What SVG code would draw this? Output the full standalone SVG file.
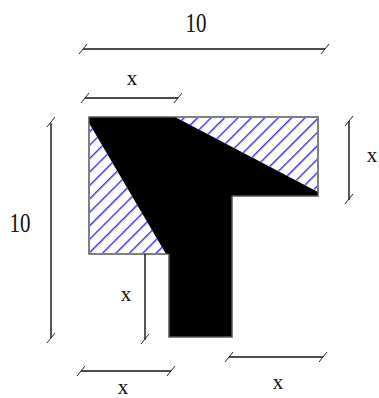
<svg xmlns="http://www.w3.org/2000/svg" width="379" height="398" viewBox="0 0 379 398">
<style>
.dim{stroke:#111;stroke-width:1.4;fill:none}
.tick{stroke:#222;stroke-width:1;fill:none}
.lbl{font-family:"Liberation Serif","Times New Roman",serif;font-size:21px;fill:#111;text-anchor:middle}
.edge{stroke:#555;stroke-width:1.5;fill:none}
</style>
<defs>
<pattern id="hatch" patternUnits="userSpaceOnUse" width="20" height="9.5" patternTransform="rotate(-45)">
<line x1="0" y1="4.5" x2="20" y2="4.5" stroke="#1f1ff0" stroke-width="1.3"/>
</pattern>
</defs>
<g id="section">
<rect x="89" y="117" width="229" height="137" fill="#fff"/>
<polygon points="89,117 175,117 318,192 318,196 232,196 232,337 169,337 169,254 166,254 89,123" fill="#000"/>
<polygon points="90,124 90,253 166,253" fill="url(#hatch)"/>
<polygon points="176,118 317,118 317,191" fill="url(#hatch)"/>
<polyline class="edge" points="168,254 89,254 89,117 318,117 318,196 232,196"/>
<polyline class="edge" points="232,196 232,337 169,337 169,254"/>
</g>
<g id="connectors">
<g id="dim-top-10">
<line class="dim" x1="83" y1="49" x2="325" y2="49"/>
<line class="tick" x1="79" y1="54" x2="87" y2="44"/>
<line class="tick" x1="321" y1="54" x2="329" y2="44"/>
</g>
<g id="dim-top-x">
<line class="dim" x1="85" y1="98" x2="178" y2="98"/>
<line class="tick" x1="81" y1="103" x2="89" y2="93"/>
<line class="tick" x1="174" y1="103" x2="182" y2="93"/>
</g>
<g id="dim-left-10">
<line class="dim" x1="51" y1="123" x2="51" y2="338"/>
<line class="tick" x1="47" y1="127" x2="55" y2="117"/>
<line class="tick" x1="47" y1="343" x2="55" y2="333"/>
</g>
<g id="dim-right-x">
<line class="dim" x1="349" y1="121" x2="349" y2="200"/>
<line class="tick" x1="345" y1="126" x2="353" y2="116"/>
<line class="tick" x1="345" y1="204" x2="353" y2="194"/>
</g>
<g id="dim-inner-x">
<line class="dim" x1="145" y1="254" x2="145" y2="340"/>
<line class="tick" x1="141" y1="344" x2="149" y2="334"/>
</g>
<g id="dim-bottom-left-x">
<line class="dim" x1="81" y1="371" x2="171" y2="371"/>
<line class="tick" x1="77" y1="376" x2="85" y2="366"/>
<line class="tick" x1="167" y1="376" x2="175" y2="366"/>
</g>
<g id="dim-bottom-right-x">
<line class="dim" x1="229" y1="357" x2="323" y2="357"/>
<line class="tick" x1="225" y1="362" x2="233" y2="352"/>
<line class="tick" x1="319" y1="362" x2="327" y2="352"/>
</g>
</g>
<g id="labels">
<text class="lbl" transform="translate(196,32) scale(1,1.35)">10</text>
<text class="lbl" transform="translate(20,232) scale(1,1.35)">10</text>
<text class="lbl" x="132" y="85">x</text>
<text class="lbl" x="372" y="162">x</text>
<text class="lbl" x="126" y="301">x</text>
<text class="lbl" x="123" y="394">x</text>
<text class="lbl" x="278" y="389">x</text>
</g>
</svg>
